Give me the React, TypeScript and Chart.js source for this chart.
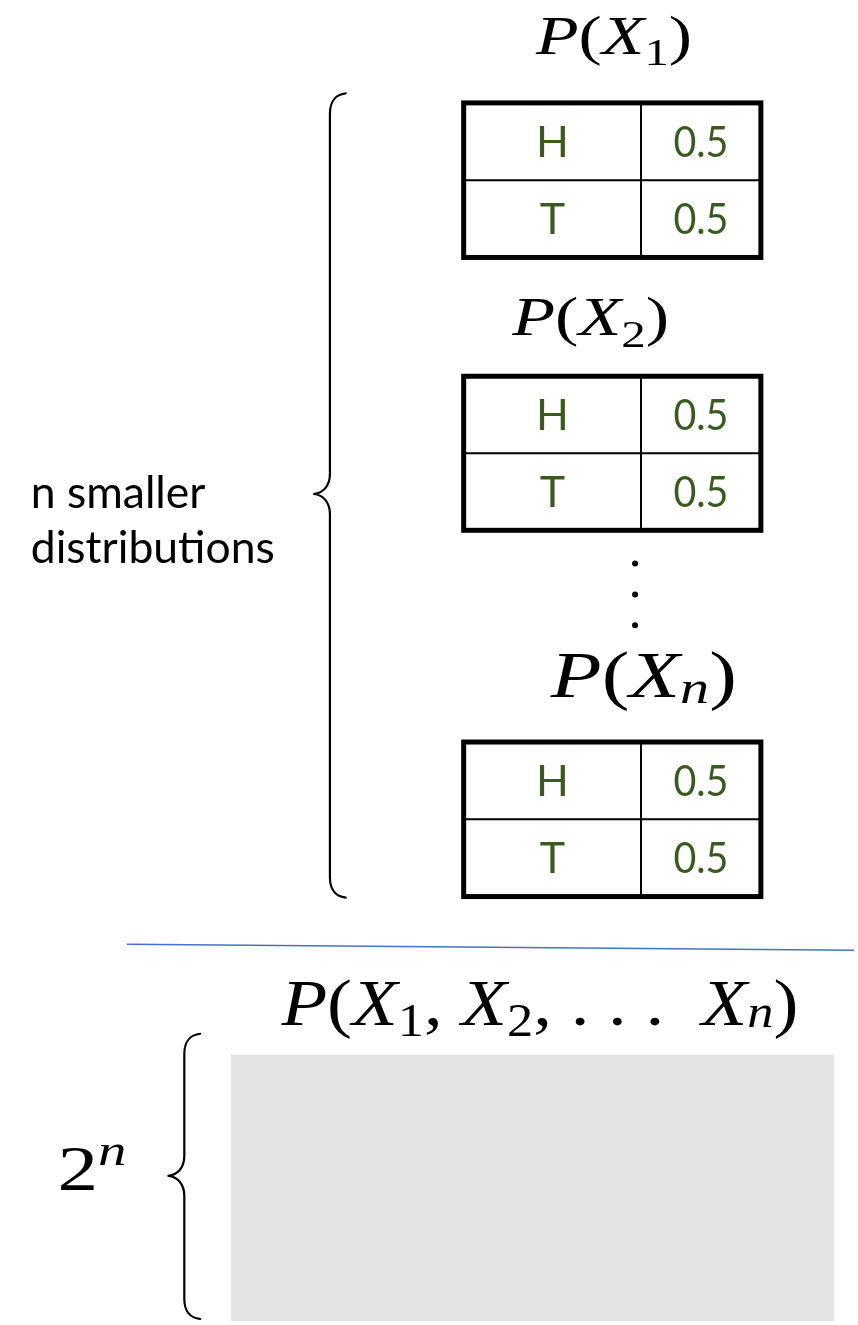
import React, { useEffect, useRef } from "react";
import { Chart, registerables } from "chart.js";

Chart.register(...registerables);

// ---------- data ----------
const OUTCOMES = ["H", "T"];
const PROBS_X1 = [0.5, 0.5];
const PROBS_X2 = [0.5, 0.5];
const PROBS_XN = [0.5, 0.5];
const VAR_SUBSCRIPTS = ["1", "2", "n"];
const SIDE_LABEL_LINES = ["n smaller", "distributions"];
const JOINT_BASE = "2";
const JOINT_EXP = "n";

// ---------- layout (canvas coordinates on the hidden linear scales) ----------
const W = 858;
const H = 1325;
const TABLE_X = [464, 643, 764]; // left, divider, right
const TABLE_Y = [
  [99.5, 255],
  [374.5, 529.5],
  [742.5, 898],
];
const TITLE_POS = [
  { x: 537, base: 50, size: 55, w: 156 },
  { x: 513, base: 333, size: 55, w: 157 },
  { x: 552, base: 697, size: 65, w: 186 },
];
const ELLIPSIS_X = 637;
const ELLIPSIS_Y = [563, 594, 625];
const JOINT_TITLE = { x: 280, base: 1027, size: 66, w: 517 };
const JOINT_SIZE_POS = { x: 54, base: 1193, size: 64, w: 69 };
const GRAY_BOX = { x0: 229, x1: 838, y0: 1057, y1: 1325 };
const BLUE_LINE = { x0: 124, y0: 946, x1: 858, y1: 952 };
const SIDE_LABEL = { x: 27, base0: 507, base1: 562, w: 244, size: 44 };
const CELL_TEXT = { size: 43, capHalf: 15.5, probW: 55 };

const GREEN = "#3a5a22";
const MATH_FONT = '"Liberation Serif", "DejaVu Serif", serif';
const TEXT_FONT = 'Lato, "Open Sans", sans-serif';

type Seg = { t: string; it?: boolean; sub?: boolean; sup?: boolean; dy?: number };

function varTitle(sub: string): Seg[] {
  const isNum = /^[0-9]$/.test(sub);
  return [
    { t: "P", it: true },
    { t: "(" },
    { t: "X", it: true },
    { t: sub, it: !isNum, sub: true, dy: isNum ? 0.21 : 0.09 },
    { t: ")" },
  ];
}

function jointTitle(subs: string[]): Seg[] {
  const segs: Seg[] = [{ t: "P", it: true }, { t: "(" }];
  subs.forEach((s, i) => {
    const isNum = /^[0-9]$/.test(s);
    if (i === subs.length - 1) segs.push({ t: ". . .  " });
    segs.push({ t: "X", it: true });
    segs.push({ t: s, it: !isNum, sub: true, dy: isNum ? 0.17 : 0.03 });
    if (i < subs.length - 1) segs.push({ t: ", " });
  });
  segs.push({ t: ")" });
  return segs;
}

function drawMath(
  ctx: CanvasRenderingContext2D,
  segs: Seg[],
  x: number,
  base: number,
  size: number,
  targetW: number
) {
  const fontFor = (s: Seg) =>
    `${s.it ? "italic " : ""}${s.sub || s.sup ? size * 0.7 : size}px ${MATH_FONT}`;
  const widths = segs.map((s) => {
    ctx.font = fontFor(s);
    return ctx.measureText(s.t).width;
  });
  const natural = widths.reduce((a, b) => a + b, 0);
  const sx = targetW / natural;
  ctx.save();
  ctx.translate(x, base);
  ctx.scale(sx, 1);
  ctx.fillStyle = "#000";
  ctx.textAlign = "left";
  ctx.textBaseline = "alphabetic";
  let cx = 0;
  segs.forEach((s, i) => {
    ctx.font = fontFor(s);
    let dy = 0;
    if (s.sub) dy = (s.dy ?? 0.2) * size;
    if (s.sup) dy = -(s.dy ?? 0.4) * size;
    ctx.fillText(s.t, cx, dy);
    cx += widths[i];
  });
  ctx.restore();
}

function drawBrace(
  ctx: CanvasRenderingContext2D,
  endX: number,
  lineX: number,
  tipX: number,
  top: number,
  mid: number,
  bottom: number
) {
  const r = 20;
  ctx.beginPath();
  ctx.moveTo(endX, top);
  ctx.bezierCurveTo(lineX + 6, top + 1, lineX, top + 8, lineX, top + r);
  ctx.lineTo(lineX, mid - r);
  ctx.bezierCurveTo(lineX, mid - 8, lineX - 7, mid - 1, tipX, mid);
  ctx.bezierCurveTo(lineX - 7, mid + 1, lineX, mid + 8, lineX, mid + r);
  ctx.lineTo(lineX, bottom - r);
  ctx.bezierCurveTo(lineX, bottom - 8, lineX + 6, bottom - 1, endX, bottom);
  ctx.strokeStyle = "#000";
  ctx.lineWidth = 2.2;
  ctx.lineCap = "round";
  ctx.lineJoin = "round";
  ctx.stroke();
}

function fillScaledText(
  ctx: CanvasRenderingContext2D,
  text: string,
  x: number,
  y: number,
  sx: number,
  align: "left" | "center"
) {
  ctx.save();
  ctx.translate(x, y);
  ctx.scale(sx, 1);
  ctx.textAlign = align;
  ctx.fillText(text, 0, 0);
  ctx.restore();
}

const diagramPlugin = {
  id: "diagram",
  beforeDatasetsDraw(chart: any) {
    const ctx: CanvasRenderingContext2D = chart.ctx;
    const sx = chart.scales.x;
    const sy = chart.scales.y;
    const px = (v: number) => sx.getPixelForValue(v);
    const py = (v: number) => sy.getPixelForValue(v);

    ctx.save();
    // gray joint table block
    ctx.fillStyle = "#e4e4e4";
    ctx.fillRect(
      px(GRAY_BOX.x0),
      py(GRAY_BOX.y0),
      px(GRAY_BOX.x1) - px(GRAY_BOX.x0),
      py(GRAY_BOX.y1) - py(GRAY_BOX.y0)
    );

    // blue separator
    ctx.beginPath();
    ctx.moveTo(px(BLUE_LINE.x0), py(BLUE_LINE.y0));
    ctx.lineTo(px(BLUE_LINE.x1), py(BLUE_LINE.y1));
    ctx.strokeStyle = "#4472c4";
    ctx.lineWidth = 1.6;
    ctx.stroke();

    // small tables
    const probs = [PROBS_X1, PROBS_X2, PROBS_XN];
    probs.forEach((pr, ti) => {
      const [y0, y1] = TABLE_Y[ti];
      const xl = px(TABLE_X[0]);
      const xd = px(TABLE_X[1]);
      const xr = px(TABLE_X[2]);
      const yt = py(y0);
      const yb = py(y1);
      const rowH = (yb - yt) / OUTCOMES.length;
      ctx.strokeStyle = "#000";
      ctx.lineWidth = 2;
      ctx.beginPath();
      ctx.moveTo(xd, yt);
      ctx.lineTo(xd, yb);
      for (let r = 1; r < OUTCOMES.length; r++) {
        ctx.moveTo(xl, yt + rowH * r);
        ctx.lineTo(xr, yt + rowH * r);
      }
      ctx.stroke();
      ctx.lineWidth = 5;
      ctx.strokeRect(xl, yt, xr - xl, yb - yt);
      // text
      ctx.fillStyle = GREEN;
      ctx.font = `${CELL_TEXT.size}px ${TEXT_FONT}`;
      ctx.textBaseline = "alphabetic";
      OUTCOMES.forEach((o, r) => {
        const cy = yt + rowH * (r + 0.5) + CELL_TEXT.capHalf;
        const label = pr[r].toFixed(1);
        const pw = ctx.measureText(label).width;
        fillScaledText(ctx, o, (xl + xd) / 2, cy, 1, "center");
        fillScaledText(ctx, label, (xd + xr) / 2, cy, CELL_TEXT.probW / pw, "center");
      });
      const tp = TITLE_POS[ti];
      drawMath(ctx, varTitle(VAR_SUBSCRIPTS[ti]), px(tp.x), py(tp.base), tp.size, tp.w);
    });

    // braces
    drawBrace(ctx, px(345), px(329), px(313), py(90), py(493), py(899));
    drawBrace(ctx, px(198), px(182), px(166), py(1036), py(1179), py(1323));

    // side label
    ctx.fillStyle = "#000";
    ctx.textBaseline = "alphabetic";
    ctx.font = `${SIDE_LABEL.size}px ${TEXT_FONT}`;
    const wRef = ctx.measureText(SIDE_LABEL_LINES[1]).width;
    const sScale = SIDE_LABEL.w / wRef;
    fillScaledText(ctx, SIDE_LABEL_LINES[0], px(SIDE_LABEL.x), py(SIDE_LABEL.base0), sScale, "left");
    fillScaledText(ctx, SIDE_LABEL_LINES[1], px(SIDE_LABEL.x), py(SIDE_LABEL.base1), sScale, "left");

    // joint title and size
    drawMath(ctx, jointTitle(VAR_SUBSCRIPTS), px(JOINT_TITLE.x), py(JOINT_TITLE.base), JOINT_TITLE.size, JOINT_TITLE.w);
    drawMath(
      ctx,
      [{ t: JOINT_BASE }, { t: JOINT_EXP, it: true, sup: true, dy: 0.39 }],
      px(JOINT_SIZE_POS.x),
      py(JOINT_SIZE_POS.base),
      JOINT_SIZE_POS.size,
      JOINT_SIZE_POS.w
    );
    ctx.restore();
  },
};

export default function App() {
  const canvasRef = useRef<HTMLCanvasElement | null>(null);

  useEffect(() => {
    const canvas = canvasRef.current;
    if (!canvas) return;
    const chart = new Chart(canvas, {
      type: "scatter",
      data: {
        datasets: [
          {
            data: ELLIPSIS_Y.map((y) => ({ x: ELLIPSIS_X, y })),
            pointRadius: 3,
            pointBackgroundColor: "#000",
            pointBorderWidth: 0,
            showLine: false,
          },
        ],
      },
      options: {
        animation: false,
        responsive: false,
        maintainAspectRatio: false,
        devicePixelRatio: 1,
        events: [],
        layout: { padding: 0 },
        plugins: { legend: { display: false }, tooltip: { enabled: false } },
        scales: {
          x: { type: "linear", min: 0, max: W, display: false },
          y: { type: "linear", min: 0, max: H, reverse: true, display: false },
        },
      },
      plugins: [diagramPlugin],
    });
    return () => chart.destroy();
  }, []);

  return (
    <div style={{ position: "absolute", left: 0, top: 0, width: W, height: H, background: "#fff" }}>
      <canvas ref={canvasRef} width={W} height={H} style={{ width: W, height: H, display: "block" }} />
    </div>
  );
}
